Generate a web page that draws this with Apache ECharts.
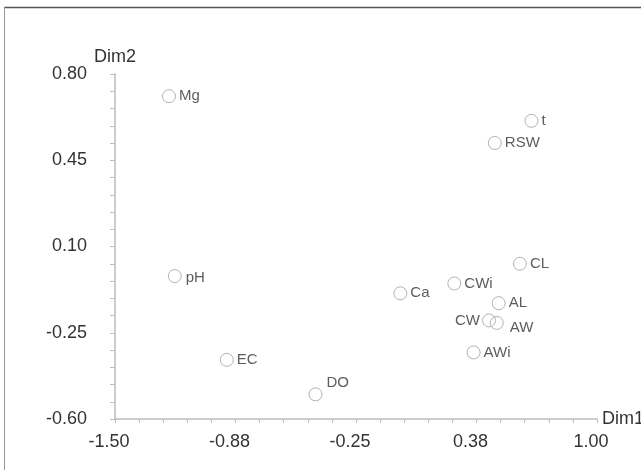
<!DOCTYPE html>
<html>
<head>
<meta charset="utf-8">
<script src="https://cdn.jsdelivr.net/npm/echarts@6/dist/echarts.min.js"></script>
<style>
html,body{margin:0;padding:0;background:#fff;}
#chart{width:641px;height:470px;}
</style>
</head>
<body>
<div id="chart"></div>
<script>
// ---- data ----
var names = ['Mg', 't', 'RSW', 'CL', 'CWi', 'Ca', 'AL', 'CW', 'AW', 'AWi', 'pH', 'EC', 'DO'];
var dim1  = [-1.22, 0.66, 0.47, 0.60, 0.26, -0.02, 0.49, 0.44, 0.48, 0.36, -1.19, -0.92, -0.46];
var dim2  = [0.71, 0.61, 0.52, 0.03, -0.05, -0.09, -0.13, -0.20, -0.21, -0.33, -0.02, -0.36, -0.50];

var xLabelValues = [-1.5, -0.875, -0.25, 0.375, 1.0];
var xTickValues = [-1.5, -1.375, -1.25, -1.125, -1, -0.875, -0.75, -0.625, -0.5, -0.375, -0.25,
                   -0.125, 0, 0.125, 0.25, 0.375, 0.5, 0.625, 0.75, 0.875, 1];
var yLabelValues = [-0.6, -0.25, 0.1, 0.45, 0.8];
var yTickValues = [-0.6, -0.53, -0.46, -0.39, -0.32, -0.25, -0.18, -0.11, -0.04, 0.03, 0.1,
                   0.17, 0.24, 0.31, 0.38, 0.45, 0.52, 0.59, 0.66, 0.73, 0.8];

// ---- label placement (style, not data) ----
var labelPlacement = {
  'CW': {position: 'left', distance: 2},
  'AW': {position: 'right', distance: 6, offset: [0, 5]},
  'DO': {position: 'right', distance: 3, offset: [1, -11]},
  'pH': {position: 'right', distance: 4, offset: [0, 2]}
};

var FONT = '"Liberation Sans", Arial, sans-serif';
var AXIS_COLOR = '#bdbdbd';
var TEXT_COLOR = '#333';

var points = names.map(function (n, i) {
  var p = labelPlacement[n] || {position: 'right', distance: 3};
  return {
    name: n,
    value: [dim1[i], dim2[i]],
    label: {
      show: true,
      formatter: n,
      position: p.position,
      distance: p.distance,
      offset: p.offset || [0, 0]
    }
  };
});

var chart = echarts.init(document.getElementById('chart'), null, {renderer: 'canvas'});
chart.setOption({
  animation: false,
  backgroundColor: '#fff',
  textStyle: {fontFamily: FONT},
  grid: {left: 115, right: 44, top: 74, bottom: 51, containLabel: false, outerBoundsMode: 'none'},
  xAxis: {
    type: 'value',
    min: -1.5, max: 1.0,
    name: 'Dim1',
    nameLocation: 'end',
    nameGap: 5,
    nameTextStyle: {fontSize: 18, color: TEXT_COLOR, fontFamily: FONT},
    splitLine: {show: false},
    axisLine: {show: true, onZero: false, lineStyle: {color: AXIS_COLOR, width: 1.5}},
    axisTick: {show: true, length: 4, customValues: xTickValues, lineStyle: {color: AXIS_COLOR, width: 1}},
    axisLabel: {
      show: true,
      customValues: xLabelValues,
      margin: 14,
      fontSize: 18,
      color: TEXT_COLOR,
      fontFamily: FONT,
      padding: [0, 12, 0, 0],
      formatter: function (v) { return v.toFixed(2); }
    }
  },
  yAxis: {
    type: 'value',
    min: -0.6, max: 0.8,
    name: 'Dim2',
    nameLocation: 'end',
    nameGap: 8,
    nameTextStyle: {fontSize: 18, color: TEXT_COLOR, fontFamily: FONT, align: 'center'},
    splitLine: {show: false},
    axisLine: {show: true, onZero: false, lineStyle: {color: AXIS_COLOR, width: 1.5}},
    axisTick: {show: true, length: 5, customValues: yTickValues, lineStyle: {color: AXIS_COLOR, width: 1}},
    axisLabel: {
      show: true,
      customValues: yLabelValues,
      margin: 28,
      fontSize: 18,
      color: TEXT_COLOR,
      fontFamily: FONT,
      padding: [8, 0, 0, 0],
      formatter: function (v) { return v.toFixed(2); }
    }
  },
  series: [{
    type: 'scatter',
    symbol: 'circle',
    symbolSize: 13,
    itemStyle: {color: 'rgba(0,0,0,0)', borderColor: '#a0a0a0', borderWidth: 1},
    label: {show: true, fontSize: 15, color: TEXT_COLOR, fontFamily: FONT},
    emphasis: {disabled: true},
    data: points
  }],
  graphic: [
    {type: 'line', shape: {x1: 4, y1: 7.5, x2: 641, y2: 7.5}, style: {stroke: '#555', lineWidth: 1.5}, silent: true},
    {type: 'line', shape: {x1: 4.5, y1: 7, x2: 4.5, y2: 470}, style: {stroke: '#999', lineWidth: 1}, silent: true}
  ]
});
</script>
</body>
</html>
